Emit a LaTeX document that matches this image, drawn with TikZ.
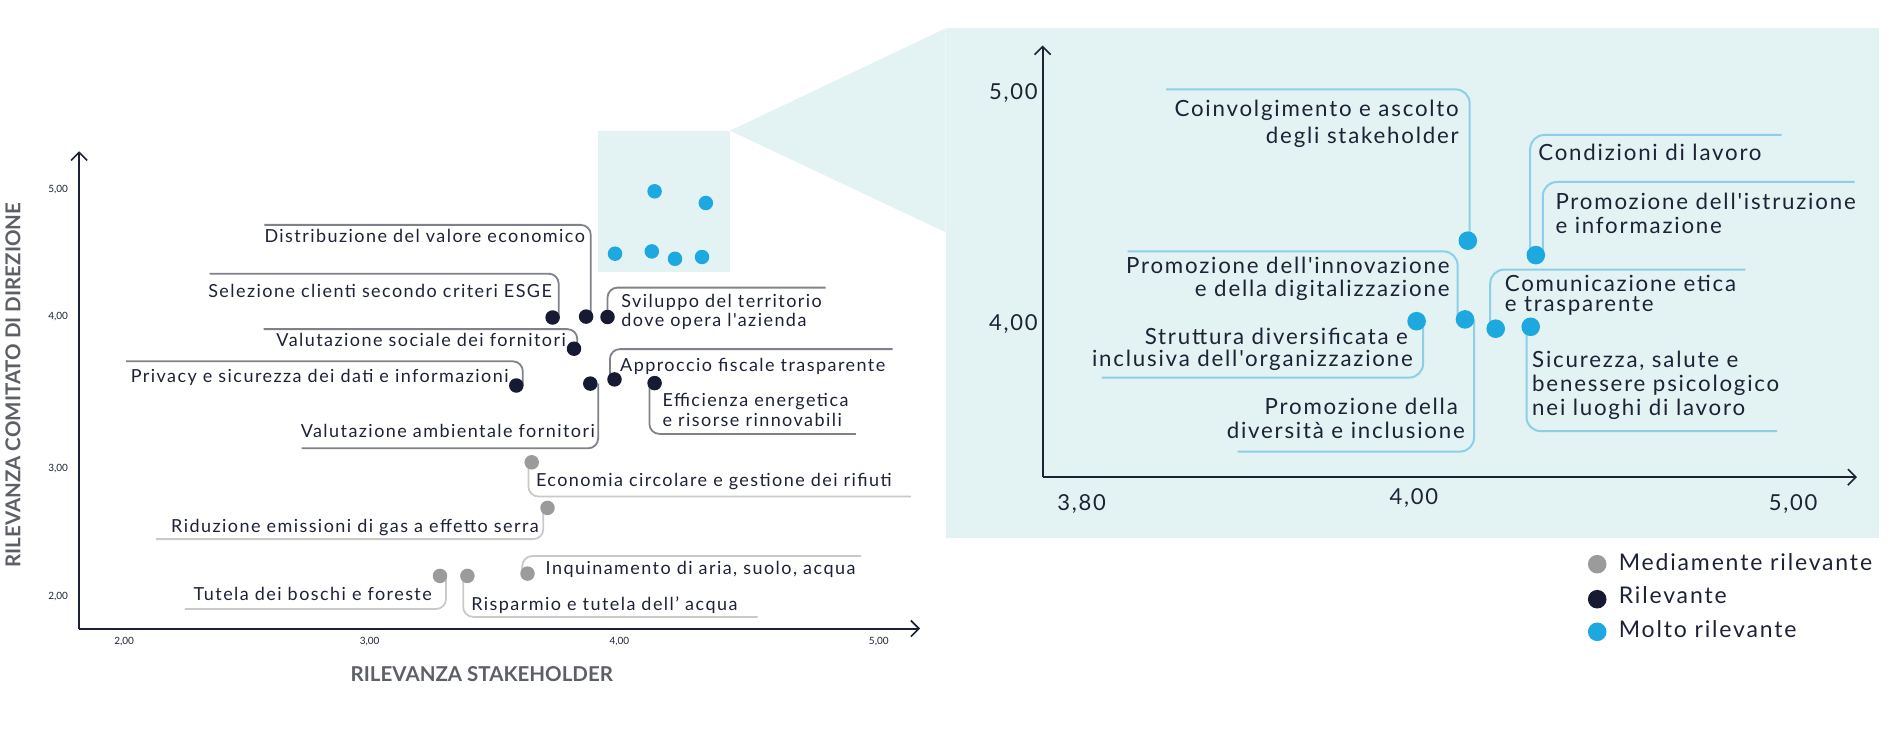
\documentclass[tikz,border=0pt]{standalone}
\usepackage{fontspec}
\setmainfont{Lato}
\newfontfamily\lblfont{Lato}[LetterSpace=8]
\usetikzlibrary{arrows.meta}
\definecolor{panelbg}{HTML}{E3F2F3}
\definecolor{navy}{HTML}{161B33}
\definecolor{grdotc}{HTML}{9B9B9B}
\definecolor{tldotc}{HTML}{1EA8E0}
\definecolor{dklinec}{HTML}{7F828A}
\definecolor{grlinec}{HTML}{C9C9C9}
\definecolor{tllinec}{HTML}{8DCFE9}
\definecolor{txtc}{HTML}{1D2236}
\definecolor{axtc}{HTML}{5C5F66}
\pgfdeclarelayer{bglayer}
\pgfdeclarelayer{linelayer}
\pgfsetlayers{bglayer,linelayer,main}
\tikzset{
  dotbase/.style={circle,inner sep=0pt,draw=none},
  dkdot/.style={dotbase,fill=navy,minimum size=14.5pt},
  grdot/.style={dotbase,fill=grdotc,minimum size=14.5pt},
  tldot/.style={dotbase,fill=tldotc,minimum size=14.5pt},
  bigdot/.style={dotbase,fill=tldotc,minimum size=18.6pt},
  lgdot/.style={dotbase,minimum size=18.6pt},
  dkline/.style={draw=dklinec,line width=1.8pt,rounded corners=10pt},
  grline/.style={draw=grlinec,line width=1.8pt,rounded corners=10pt},
  tlline/.style={draw=tllinec,line width=2pt,rounded corners=14pt},
  lbl/.style={inner sep=0pt,text=txtc,font=\lblfont\fontsize{18pt}{20pt}\selectfont},
  lblR/.style={inner sep=0pt,text=txtc,font=\lblfont\fontsize{22.3pt}{24pt}\selectfont},
  lgtext/.style={inner sep=0pt,text=txtc,font=\lblfont\fontsize{23pt}{24pt}\selectfont},
  tickL/.style={inner sep=0pt,text=txtc,font=\fontsize{10pt}{12pt}\selectfont},
  tickR/.style={inner sep=0pt,text=txtc,font=\lblfont\fontsize{22pt}{24pt}\selectfont},
  axtitle/.style={inner sep=0pt,text=axtc,font=\bfseries\fontsize{20.5pt}{22pt}\selectfont},
  axline/.style={draw=txtc,line width=2pt,-{Straight Barb[length=8pt,width=16pt,line width=1.6pt]}}
}
\begin{document}
\begin{tikzpicture}[x=1pt,y=-1pt]
\useasboundingbox (0,0) rectangle (1898,730);
% ---------- backgrounds ----------
\begin{pgfonlayer}{bglayer}
\fill[panelbg] (598.2,130.8) rectangle (730,271.5);
\fill[panelbg] (730,130.7) -- (945.7,28.3) -- (945.7,232.3) -- cycle;
\fill[panelbg] (945.7,27.9) rectangle (1879.4,537.7);
\end{pgfonlayer}
% ---------- left axes ----------
\coordinate (lO) at (79.1,628.5);
\coordinate (lYt) at (79.1,151.3);
\coordinate (lXt) at (920,628.5);
\draw[axline] (lO) -- (lYt);
\draw[axline] (lO) -- (lXt);
\node[tickL] (ly5) at (58.2,190) {5,00};
\node[tickL] (ly4) at (58.2,317) {4,00};
\node[tickL] (ly3) at (58.2,468.8) {3,00};
\node[tickL] (ly2) at (58.2,596.4) {2,00};
\node[tickL] (lx2) at (124.2,641.6) {2,00};
\node[tickL] (lx3) at (369.7,641.6) {3,00};
\node[tickL] (lx4) at (619.4,641.6) {4,00};
\node[tickL] (lx5) at (878.8,641.6) {5,00};
\node[axtitle] (xtitle) at (481.8,673.6) {RILEVANZA STAKEHOLDER};
\node[axtitle,rotate=90] (ytitle) at (13,385.2) {RILEVANZA COMITATO DI DIREZIONE};
% ---------- left dots ----------
\node[dkdot] (dSel) at (552.6,317.5) {};
\node[dkdot] (dDist) at (586.1,316.6) {};
\node[dkdot] (dSvil) at (607.5,317) {};
\node[dkdot] (dVsoc) at (574,348.7) {};
\node[dkdot] (dPriv) at (516.3,385.5) {};
\node[dkdot] (dVamb) at (590.3,383.6) {};
\node[dkdot] (dAppr) at (614.5,379.4) {};
\node[dkdot] (dEff) at (654.6,383.1) {};
\node[grdot] (dEco) at (531.7,462.3) {};
\node[grdot] (dRid) at (547.5,507.9) {};
\node[grdot] (dInq) at (527.5,573.6) {};
\node[grdot] (dTut) at (440,575.9) {};
\node[grdot] (dRis) at (467.4,575.9) {};
\node[tldot] (s1) at (654.6,191.3) {};
\node[tldot] (s2) at (705.8,203) {};
\node[tldot] (s3) at (615,253.7) {};
\node[tldot] (s4) at (651.8,251.4) {};
\node[tldot] (s5) at (675,258.8) {};
\node[tldot] (s6) at (702,257) {};
% ---------- left connector ends ----------
\coordinate (eDist) at (264.4,224.9);
\coordinate (eSel) at (209.5,273.7);
\coordinate (eSvil) at (825.5,287.6);
\coordinate (eVsoc) at (263.5,329.1);
\coordinate (ePriv) at (126.2,361.3);
\coordinate (eVamb) at (301.7,448.3);
\coordinate (eAppr) at (892.7,349.1);
\coordinate (eEff) at (855.8,433.9);
\coordinate (eEco) at (910.9,496.5);
\coordinate (eRid) at (156,539.1);
\coordinate (eInq) at (861.2,556);
\coordinate (eTut) at (184.8,609);
\coordinate (eRis) at (757.6,616.9);
\begin{pgfonlayer}{linelayer}
\draw[dkline] ([xshift=4.7pt]dDist.center) |- (eDist);
\draw[dkline] ([xshift=6.1pt]dSel.center) |- (eSel);
\draw[dkline] (dSvil.center) |- (eSvil);
\draw[dkline] ([xshift=3.3pt]dVsoc.center) |- (eVsoc);
\draw[dkline] ([xshift=6.5pt]dPriv.center) |- (ePriv);
\draw[dkline] ([xshift=7.9pt]dVamb.center) |- (eVamb);
\draw[dkline] ([xshift=-4.6pt]dAppr.center) |- (eAppr);
\draw[dkline] ([xshift=-5.2pt]dEff.center) |- (eEff);
\draw[grline] ([xshift=-3.3pt]dEco.center) |- (eEco);
\draw[grline] ([xshift=-4.2pt]dRid.center) |- (eRid);
\draw[grline] ([xshift=-5.2pt]dInq.center) |- (eInq);
\draw[grline] ([xshift=6pt]dTut.center) |- (eTut);
\draw[grline] ([xshift=-4.2pt]dRis.center) |- (eRis);
\end{pgfonlayer}
% ---------- left labels ----------
\node[lbl,anchor=base east] (tDist) at (585.2,242.7) {Distribuzione del valore economico};
\node[lbl,anchor=base east] (tSel) at (552.1,297.6) {Selezione clienti secondo criteri ESGE};
\node[lbl,anchor=base west] (tSvil1) at (621.2,307.1) {Sviluppo del territorio};
\node[lbl,anchor=base west] (tSvil2) at (621.2,326.4) {dove opera l'azienda};
\node[lbl,anchor=base east] (tVsoc) at (566.1,346.1) {Valutazione sociale dei fornitori};
\node[lbl,anchor=base east] (tPriv) at (508.8,382.4) {Privacy e sicurezza dei dati e informazioni};
\node[lbl,anchor=base west] (tAppr) at (620,371.4) {Approccio fiscale trasparente};
\node[lbl,anchor=base west] (tEff1) at (662.4,406.7) {Efficienza energetica};
\node[lbl,anchor=base west] (tEff2) at (662.4,426.8) {e risorse rinnovabili};
\node[lbl,anchor=base east] (tVamb) at (595,437.8) {Valutazione ambientale fornitori};
\node[lbl,anchor=base west] (tEco) at (535.8,486.7) {Economia circolare e gestione dei rifiuti};
\node[lbl,anchor=base east] (tRid) at (539.1,532.7) {Riduzione emissioni di gas a effetto serra};
\node[lbl,anchor=base west] (tInq) at (545.5,574.2) {Inquinamento di aria, suolo, acqua};
\node[lbl,anchor=base east] (tTut) at (432,600.2) {Tutela dei boschi e foreste};
\node[lbl,anchor=base west] (tRis) at (471.1,610) {Risparmio e tutela dell’ acqua};
% ---------- right axes ----------
\coordinate (rO) at (1042.6,477.2);
\coordinate (rYt) at (1042.6,45.6);
\coordinate (rXt) at (1857,477.2);
\draw[axline] (rO) -- (rYt);
\draw[axline] (rO) -- (rXt);
\node[tickR] (ry5) at (1013.3,93.1) {5,00};
\node[tickR] (ry4) at (1013.3,324.5) {4,00};
\node[tickR] (rx38) at (1081.7,504.2) {3,80};
\node[tickR] (rx4) at (1413.8,498.1) {4,00};
\node[tickR] (rx5) at (1793.2,504.2) {5,00};
% ---------- right dots ----------
\node[bigdot] (bCoin) at (1467.8,240.7) {};
\node[bigdot] (bCond) at (1535.8,255.1) {};
\node[bigdot] (bInno) at (1465,319.4) {};
\node[bigdot] (bStru) at (1416.6,321.2) {};
\node[bigdot] (bCom) at (1495.7,328.7) {};
\node[bigdot] (bSic) at (1530.7,326.8) {};
\coordinate (fCoin) at (1166,89.4);
\coordinate (fCond) at (1781.6,135);
\coordinate (fIstr) at (1854.7,182);
\coordinate (fInno) at (1127.5,251.4);
\coordinate (fStru) at (1101.9,377.6);
\coordinate (fDiv) at (1237.5,451.6);
\coordinate (fCom) at (1745.3,269.6);
\coordinate (fSic) at (1777,431.1);
\begin{pgfonlayer}{linelayer}
\draw[tlline] ([xshift=1.9pt]bCoin.center) |- (fCoin);
\draw[tlline] ([xshift=-5.6pt]bCond.center) |- (fCond);
\draw[tlline] ([xshift=7pt]bCond.center) |- (fIstr);
\draw[tlline] ([xshift=-7.4pt]bInno.center) |- (fInno);
\draw[tlline] ([xshift=6.5pt]bStru.center) |- (fStru);
\draw[tlline] ([xshift=9pt]bInno.center) |- (fDiv);
\draw[tlline] ([xshift=-5.5pt]bCom.center) |- (fCom);
\draw[tlline] ([xshift=-4.2pt]bSic.center) |- (fSic);
\end{pgfonlayer}
% ---------- right labels ----------
\node[lblR,anchor=base east] (rCoin1) at (1459,116.7) {Coinvolgimento e ascolto};
\node[lblR,anchor=base east] (rCoin2) at (1459,143.2) {degli stakeholder};
\node[lblR,anchor=base west] (rCond) at (1538.1,160.4) {Condizioni di lavoro};
\node[lblR,anchor=base west] (rIstr1) at (1555.3,209.8) {Promozione dell'istruzione};
\node[lblR,anchor=base west] (rIstr2) at (1555.3,233.1) {e informazione};
\node[lblR,anchor=base east] (rInno1) at (1449.7,273.6) {Promozione dell'innovazione};
\node[lblR,anchor=base east] (rInno2) at (1449.7,296.8) {e della digitalizzazione};
\node[lblR,anchor=base east] (rStru1) at (1408,344.3) {Struttura diversificata e};
\node[lblR,anchor=base east] (rStru2) at (1413,366.7) {inclusiva dell'organizzazione};
\node[lblR,anchor=base east] (rDiv1) at (1458,414.6) {Promozione della};
\node[lblR,anchor=base east] (rDiv2) at (1465,438.8) {diversità e inclusione};
\node[lblR,anchor=base west] (rCom1) at (1504.6,291.5) {Comunicazione etica};
\node[lblR,anchor=base west] (rCom2) at (1504.6,311) {e trasparente};
\node[lblR,anchor=base west] (rSic1) at (1532,367.6) {Sicurezza, salute e};
\node[lblR,anchor=base west] (rSic2) at (1532,391.8) {benessere psicologico};
\node[lblR,anchor=base west] (rSic3) at (1532,415.1) {nei luoghi di lavoro};
% ---------- legend ----------
\node[lgdot,fill=grdotc] (lg1) at (1597.2,564.2) {};
\node[lgdot,fill=navy] (lg2) at (1597.2,599.2) {};
\node[lgdot,fill=tldotc] (lg3) at (1597.2,631.8) {};
\node[lgtext,anchor=base west] (lt1) at (1618.6,570.4) {Mediamente rilevante};
\node[lgtext,anchor=base west] (lt2) at (1618.6,603.9) {Rilevante};
\node[lgtext,anchor=base west] (lt3) at (1618.6,637.4) {Molto rilevante};
\end{tikzpicture}
\end{document}
